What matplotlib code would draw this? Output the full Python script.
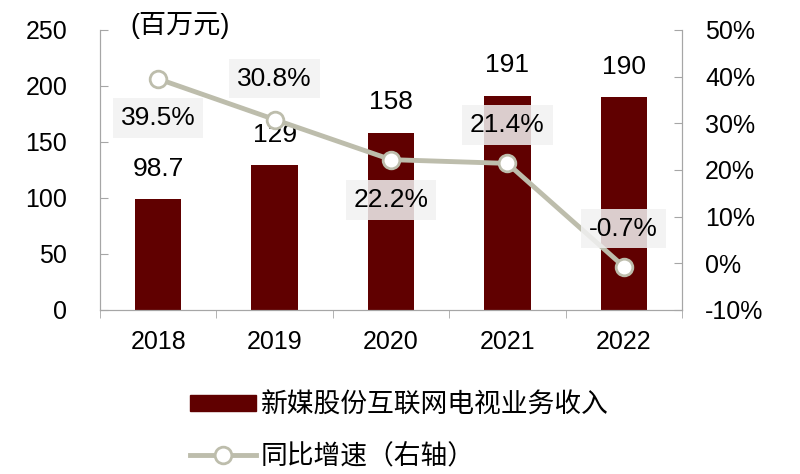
import matplotlib.pyplot as plt
from matplotlib.patches import Patch
from matplotlib.lines import Line2D

plt.rcParams['font.family'] = ['Liberation Sans', 'Noto Sans CJK SC', 'DejaVu Sans']

# data
years = ["2018", "2019", "2020", "2021", "2022"]
revenue = [98.7, 129, 158, 191, 190]
growth = [39.5, 30.8, 22.2, 21.4, -0.7]
rev_labels = ["98.7", "129", "158", "191", "190"]
growth_offset = [-39, 41, -40, 38, 38]  # label above/below point, in px

bar_color = "#600000"
line_color = "#bdbdac"
axis_color = "#a6a6a6"
fs = 18
lfs = 19

fig = plt.figure(figsize=(8, 4.74), dpi=100)
ax1 = fig.add_axes([0.125, 0.346, 0.7275, 0.591])
x = list(range(len(years)))
ax1.bar(x, revenue, width=0.40, color=bar_color, zorder=2)
ax1.set_xlim(-0.5, 4.5)
ax1.set_ylim(0, 250)
ax1.set_yticks([0, 50, 100, 150, 200, 250])
ax1.set_xticks(x)
ax1.set_xticklabels(years)
ax1.set_xticks([i + 0.5 for i in range(-1, 5)], minor=True)
ax1.tick_params(axis='x', which='major', length=0, pad=14.5, labelsize=fs)
ax1.tick_params(axis='x', which='minor', length=6, direction='out', color=axis_color)
ax1.tick_params(axis='y', direction='in', length=6, color=axis_color, labelsize=fs, pad=23.5)
ax1.spines["top"].set_visible(False)
for s in ["left", "bottom", "right"]:
    ax1.spines[s].set_color(axis_color)

for i, v in enumerate(revenue):
    ax1.annotate(rev_labels[i], (i, v), xytext=(0, 22), textcoords='offset points',
                 ha='center', va='center', fontsize=lfs, zorder=5)

ax2 = ax1.twinx()
ax2.plot(x, growth, color=line_color, lw=3.5, marker='o', markersize=12,
         markerfacecolor='white', markeredgecolor=line_color, markeredgewidth=2, zorder=3)
ax2.set_ylim(-10, 50)
ax2.set_yticks(range(-10, 51, 10))
ax2.set_yticklabels([f"{t}%" for t in range(-10, 51, 10)])
ax2.tick_params(axis='y', direction='in', length=6, color=axis_color, labelsize=fs, pad=16.5)
ax2.spines["top"].set_visible(False)
for s in ["left", "bottom", "right"]:
    ax2.spines[s].set_color(axis_color)

for i, g in enumerate(growth):
    ax2.annotate(f"{g}%", (i, g), xytext=(0, growth_offset[i] * 0.72), textcoords='offset points',
                 ha='center', va='center', fontsize=lfs, zorder=6,
                 bbox=dict(boxstyle='square,pad=0.3', facecolor='#f2f2f2', edgecolor='none', alpha=0.85))

fig.text(0.163, 0.947, "(百万元)", fontsize=19.5, ha='left', va='center')

handles = [Patch(facecolor=bar_color, edgecolor=bar_color),
           Line2D([0], [0], color=line_color, lw=3.5, marker='o', markersize=12,
                  markerfacecolor='white', markeredgecolor=line_color, markeredgewidth=2)]
fig.legend(handles, ["新媒股份互联网电视业务收入", "同比增速（右轴）"],
           loc='upper left', bbox_to_anchor=(0.2375, 0.172), frameon=False, fontsize=19.3,
           handlelength=2.45, handleheight=0.52, labelspacing=0.95, handletextpad=0.2,
           borderpad=0, borderaxespad=0)

plt.savefig("out.png", dpi=100)
